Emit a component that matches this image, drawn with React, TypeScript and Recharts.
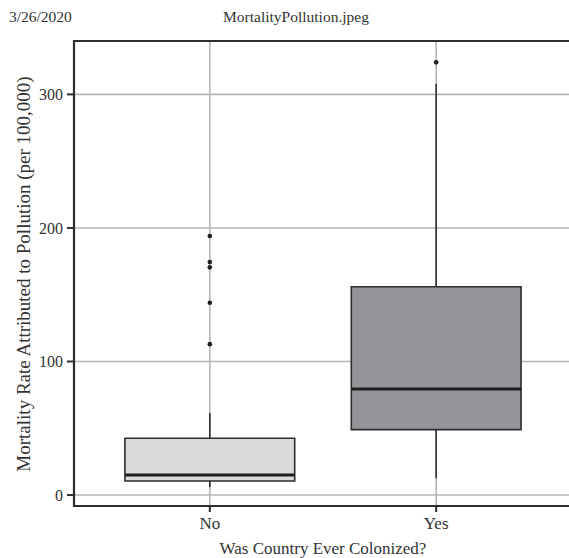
import {
  ScatterChart,
  Scatter,
  XAxis,
  YAxis,
  CartesianGrid,
  ReferenceArea,
  ReferenceLine,
  Label,
} from "recharts";

// box plot summary per group
const categories = ["No", "Yes"];
const whiskerLow = [6, 12.5];
const q1 = [10.5, 49];
const median = [15, 79.5];
const q3 = [42.5, 156];
const whiskerHigh = [61.5, 308];
const outliersNo = [113, 144, 170.5, 174.5, 194];
const outliersYes = [324];
const yTicks = [0, 100, 200, 300];

const boxFills = ["#d9dadc", "#939598"];
const HALF = 0.375; // half box width in category units
const DARK = "#2e2e2e";
const GRID = "#b5b5b5";
const FONT = "'Liberation Serif', 'DejaVu Serif', serif";

const outlierData = [
  ...outliersNo.map((v) => ({ x: 1, y: v })),
  ...outliersYes.map((v) => ({ x: 2, y: v })),
];

export default function App() {
  return (
    <div
      style={{
        position: "absolute",
        left: 0,
        top: 0,
        width: 569,
        height: 558,
        overflow: "hidden",
        background: "#fff",
        fontFamily: FONT,
        color: "#333",
      }}
    >
      <div style={{ position: "absolute", left: 9, top: 8, fontSize: 15.5 }}>3/26/2020</div>
      <div
        style={{
          position: "absolute",
          left: 296,
          top: 8,
          fontSize: 15.5,
          transform: "translateX(-50%)",
          whiteSpace: "nowrap",
        }}
      >
        MortalityPollution.jpeg
      </div>
      <ScatterChart
        width={580}
        height={558}
        margin={{ top: 41, right: 8, bottom: 0, left: 0 }}
        style={{ position: "absolute", left: 0, top: 0 }}
      >
        <CartesianGrid stroke={GRID} strokeWidth={1.6} />
        <XAxis
          type="number"
          dataKey="x"
          domain={[0.4, 2.6]}
          ticks={[1, 2]}
          tickFormatter={(v) => categories[v - 1]}
          allowDataOverflow
          height={52}
          tickSize={6}
          tickMargin={5}
          stroke={DARK}
          strokeWidth={2}
          tick={{ fill: "#333", fontSize: 17, fontFamily: FONT }}
        >
          <Label
            content={({ viewBox }: any) => (
              <text
                x={viewBox.x + viewBox.width / 2}
                y={554}
                textAnchor="middle"
                fill="#333"
                fontSize={17}
                fontFamily={FONT}
              >
                Was Country Ever Colonized?
              </text>
            )}
          />
        </XAxis>
        <YAxis
          type="number"
          dataKey="y"
          domain={[-8.2, 340]}
          ticks={yTicks}
          allowDataOverflow
          width={74}
          tickSize={7}
          tickMargin={4}
          stroke={DARK}
          strokeWidth={2}
          tick={{ fill: "#333", fontSize: 16, fontFamily: FONT }}
        >
          <Label
            content={() => {
              const cx = 30;
              const cy = 274;
              return (
                <text
                  x={cx}
                  y={cy}
                  transform={`rotate(-90, ${cx}, ${cy})`}
                  textAnchor="middle"
                  fill="#333"
                  fontSize={19}
                  fontFamily={FONT}
                >
                  Mortality Rate Attributed to Pollution (per 100,000)
                </text>
              );
            }}
          />
        </YAxis>

        {categories.map((c, i) => (
          <ReferenceLine
            key={`wl-${c}`}
            segment={[
              { x: i + 1, y: whiskerLow[i] },
              { x: i + 1, y: q1[i] },
            ]}
            stroke={DARK}
            strokeWidth={1.6}
          />
        ))}
        {categories.map((c, i) => (
          <ReferenceLine
            key={`wh-${c}`}
            segment={[
              { x: i + 1, y: q3[i] },
              { x: i + 1, y: whiskerHigh[i] },
            ]}
            stroke={DARK}
            strokeWidth={1.6}
          />
        ))}
        {categories.map((c, i) => (
          <ReferenceArea
            key={`box-${c}`}
            x1={i + 1 - HALF}
            x2={i + 1 + HALF}
            y1={q1[i]}
            y2={q3[i]}
            fill={boxFills[i]}
            fillOpacity={1}
            stroke={DARK}
            strokeWidth={1.6}
          />
        ))}
        {categories.map((c, i) => (
          <ReferenceLine
            key={`med-${c}`}
            segment={[
              { x: i + 1 - HALF, y: median[i] },
              { x: i + 1 + HALF, y: median[i] },
            ]}
            stroke="#1e1e1e"
            strokeWidth={3}
          />
        ))}
        <ReferenceArea
          x1={0.4}
          x2={2.6}
          y1={-8.2}
          y2={340}
          fill="none"
          stroke={DARK}
          strokeWidth={2.2}
          ifOverflow="visible"
        />
        <Scatter
          data={outlierData}
          isAnimationActive={false}
          shape={(p: any) => <circle cx={p.cx} cy={p.cy} r={2.3} fill="#1e1e1e" />}
        />
      </ScatterChart>
    </div>
  );
}
